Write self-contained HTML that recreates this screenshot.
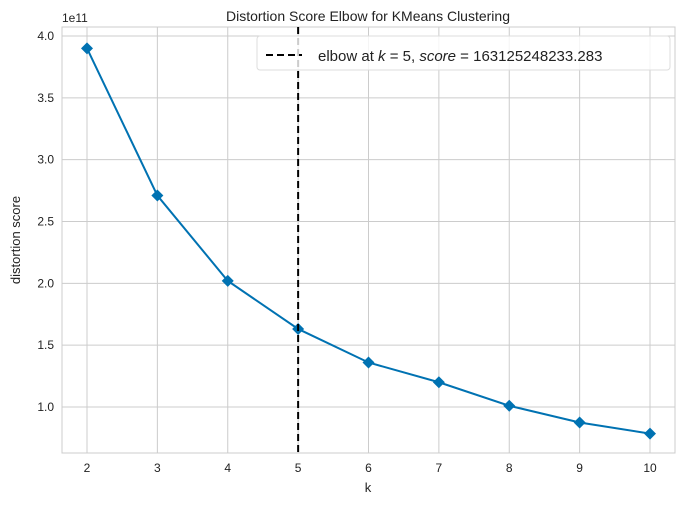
<!DOCTYPE html>
<html><head><meta charset="utf-8"><style>
body{margin:0;background:#fff;font-family:"Liberation Sans","DejaVu Sans",sans-serif;}
</style></head><body>
<svg id="chart" width="688" height="507" xmlns="http://www.w3.org/2000/svg">
<rect x="0" y="0" width="688" height="507" fill="#fff"/>
<rect x="62" y="27" width="613" height="426" fill="#fff" stroke="#ccc" stroke-width="1"/>
<g id="grid"></g>
<g id="ticks"></g>
<text x="368" y="21" text-anchor="middle" font-size="14" fill="#222">Distortion Score Elbow for KMeans Clustering</text>
<text x="368" y="492" text-anchor="middle" font-size="13" fill="#222">k</text>
<text x="20" y="240" text-anchor="middle" font-size="13" fill="#222" transform="rotate(-90 20 240)">distortion score</text>
<text x="62" y="22" font-size="12" fill="#222">1e11</text>
<g id="series"></g>
<g>
<rect x="257" y="36" width="413" height="34" rx="3" fill="#fff" fill-opacity="0.8" stroke="#ddd"/>
<line x1="266" y1="55" x2="302" y2="55" stroke="#000" stroke-width="2" stroke-dasharray="7,4"/>
<text x="318" y="61" font-size="15" fill="#222">elbow at <tspan font-style="italic">k</tspan> = 5, <tspan font-style="italic">score</tspan> = 163125248233.283</text>
</g>
</svg>
<script>
const ks=[2,3,4,5,6,7,8,9,10];
const scores=[3.90,2.71,2.02,1.631,1.36,1.20,1.01,0.875,0.785];
const xTicks=[2,3,4,5,6,7,8,9,10];
const yTicks=[1.0,1.5,2.0,2.5,3.0,3.5,4.0];
const elbowK=5;
const NS="http://www.w3.org/2000/svg";
const X=v=>87+(v-2)*70.375;
const Y=v=>407-(v-1)*123.67;
function mk(t,a,p){const e=document.createElementNS(NS,t);for(const k in a)e.setAttribute(k,a[k]);p.appendChild(e);return e;}
const grid=document.getElementById('grid'),ticks=document.getElementById('ticks'),ser=document.getElementById('series');
xTicks.forEach(t=>{
 const l=mk('line',{x1:X(t),x2:X(t),y1:27,y2:453,stroke:'#ccc','stroke-width':1},grid);
 
 
 const tx=mk('text',{x:X(t),y:472,'text-anchor':'middle','font-size':12,fill:'#222'},ticks);
 tx.textContent=t;
 
 
});
yTicks.forEach(t=>{
 const l=mk('line',{x1:62,x2:675,y1:Y(t),y2:Y(t),stroke:'#ccc','stroke-width':1},grid);
 
 
 const tx=mk('text',{x:54,y:Y(t)+4,'text-anchor':'end','font-size':12,fill:'#222'},ticks);
 tx.textContent=t.toFixed(1);
 
 
});
const line=mk('polyline',{points:ks.map((k,i)=>X(k)+','+Y(scores[i])).join(' '),fill:'none',stroke:'#0072b2','stroke-width':2},ser);


ks.forEach((k,i)=>{
 const x=X(k),y=Y(scores[i]);
 const m=mk('polygon',{points:`${x},${y-6} ${x+6},${y} ${x},${y+6} ${x-6},${y}`,fill:'#0072b2'},ser);
 
 
});
const el=mk('line',{x1:X(elbowK),x2:X(elbowK),y1:27,y2:453,stroke:'#000','stroke-width':2,'stroke-dasharray':'7,4'},ser);


</script>
</body></html>
